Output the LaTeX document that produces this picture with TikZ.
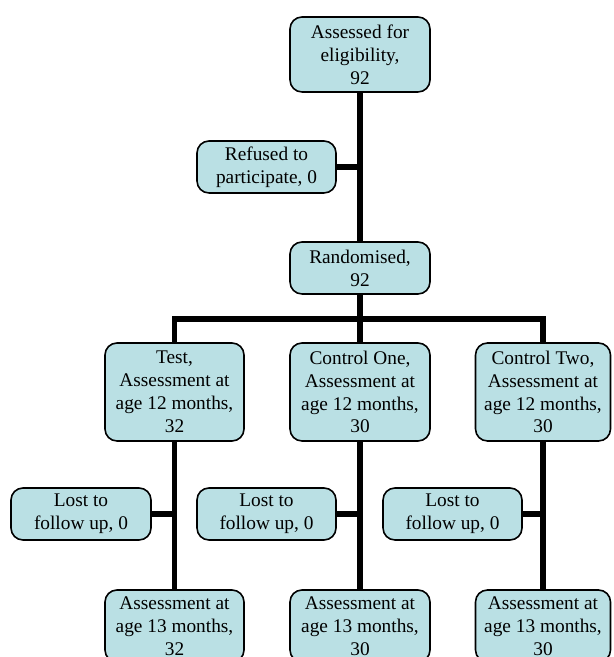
\documentclass[tikz,border=0pt]{standalone}
\usepackage{fontspec}
\setmainfont{Liberation Serif}
\usetikzlibrary{positioning,backgrounds,calc}
\definecolor{boxfill}{RGB}{186,224,228}

\begin{document}
\begin{tikzpicture}[
  stage/.style={rectangle, rounded corners=0.24cm, draw=black, line width=0.9pt, fill=boxfill, minimum width=2.8cm, align=center, font=\fontsize{11}{13}\selectfont, inner sep=2pt},
  flow/.style={line width=3.4pt}
]
\useasboundingbox (0,0) rectangle (12.26,13.14);

% --- Nodos ---
\node[stage, minimum height=1.5cm] (elig) at (7.2,12.05) {Assessed for\\eligibility,\\92};
\node[stage, minimum height=1.04cm, minimum width=2.78cm] (refused) at (5.33,9.80) {Refused to\\participate, 0};
\node[stage, minimum height=1.04cm] (random) at (7.2,7.78) {Randomised,\\92};

\node[stage, minimum height=1.96cm, minimum width=2.78cm] (test) at (3.49,5.30) {Test,\\Assessment at\\age 12 months,\\32};
\node[stage, minimum height=1.96cm] (ctrlone) at (7.2,5.30) {Control One,\\Assessment at\\age 12 months,\\30};
\node[stage, minimum height=1.96cm, minimum width=2.7cm] (ctrltwo) at (10.86,5.30) {Control Two,\\Assessment at\\age 12 months,\\30};

\node[stage, minimum height=1.04cm] (losttest) at (1.62,2.86) {Lost to\\follow up, 0};
\node[stage, minimum height=1.04cm, minimum width=2.78cm] (lostone) at (5.33,2.86) {Lost to\\follow up, 0};
\node[stage, minimum height=1.04cm, minimum width=2.78cm] (losttwo) at (9.05,2.86) {Lost to\\follow up, 0};

\node[stage, minimum height=1.44cm, minimum width=2.78cm] (endtest) at (3.49,0.62) {Assessment at\\age 13 months,\\32};
\node[stage, minimum height=1.44cm] (endone) at (7.2,0.62) {Assessment at\\age 13 months,\\30};
\node[stage, minimum height=1.44cm, minimum width=2.7cm] (endtwo) at (10.86,0.62) {Assessment at\\age 13 months,\\30};

\coordinate (split) at (7.2,6.76);

% --- Flujo ---
\begin{scope}[on background layer]
\draw[flow] (elig) -- (random);
\draw[flow] (refused.east) -- (refused -| elig);
\draw[flow] (test.north) |- (split) -| (ctrltwo.north);
\draw[flow] (random) -- (ctrlone);
\draw[flow] (test) -- (endtest);
\draw[flow] (ctrlone) -- (endone);
\draw[flow] (ctrltwo) -- (endtwo);
\draw[flow] (losttest.east) -- (losttest -| test);
\draw[flow] (lostone.east) -- (lostone -| ctrlone);
\draw[flow] (losttwo.east) -- (losttwo -| ctrltwo);
\end{scope}

\end{tikzpicture}
\end{document}
